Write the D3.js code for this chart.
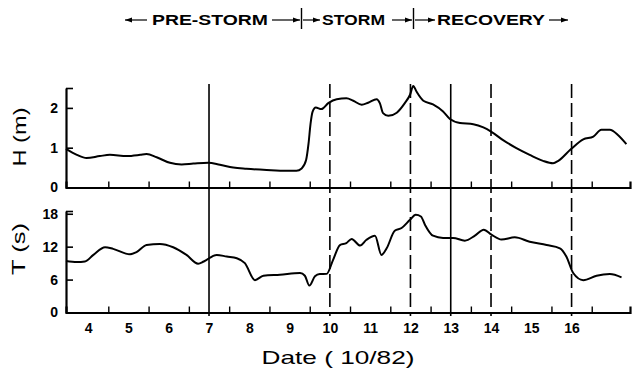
<!DOCTYPE html>
<html><head><meta charset="utf-8">
<script src="https://cdn.jsdelivr.net/npm/d3@7"></script>
<style>body{margin:0;background:#fff}svg{display:block}</style>
</head><body><svg id="c" width="632" height="369"></svg>
<script>
// ---- data ----
const hDays = [3.45,3.72,3.96,4.29,4.54,4.96,5.29,5.45,5.70,6.03,6.32,6.61,6.98,7.27,7.60,7.93,8.43,8.93,9.17,9.30,9.41,9.47,9.52,9.57,9.65,9.79,9.96,10.17,10.41,10.58,10.79,10.95,11.16,11.24,11.32,11.45,11.66,11.86,11.99,12.07,12.15,12.32,12.56,12.81,12.98,13.23,13.56,13.81,14.01,14.30,14.63,14.96,15.29,15.54,15.67,15.98,16.29,16.54,16.74,16.95,17.15,17.36];
const hVals = [0.97,0.82,0.74,0.79,0.82,0.79,0.82,0.84,0.76,0.62,0.58,0.60,0.62,0.57,0.50,0.47,0.44,0.42,0.42,0.48,0.69,1.10,1.60,1.90,2.01,1.97,2.12,2.22,2.24,2.18,2.08,2.13,2.22,2.12,1.87,1.80,1.88,2.12,2.33,2.55,2.41,2.18,2.09,1.91,1.72,1.62,1.59,1.51,1.40,1.19,0.99,0.82,0.67,0.61,0.67,0.96,1.21,1.28,1.45,1.45,1.32,1.09];
const tDays = [3.45,3.72,3.92,4.13,4.42,4.62,5.04,5.20,5.45,5.78,6.11,6.44,6.73,6.87,7.19,7.44,7.69,7.89,8.14,8.35,8.76,9.26,9.38,9.49,9.63,9.75,9.92,10.08,10.25,10.41,10.54,10.75,10.91,11.12,11.28,11.41,11.61,11.78,11.99,12.13,12.26,12.36,12.56,12.81,13.06,13.35,13.60,13.82,14.01,14.26,14.59,14.96,15.38,15.71,15.87,16.04,16.29,16.62,16.95,17.24];
const tVals = [9.4,9.2,9.3,10.5,11.9,11.6,10.6,11.0,12.3,12.5,11.9,10.5,8.9,9.3,10.5,10.2,9.9,9.0,5.9,6.7,6.9,7.2,6.7,4.9,6.6,7.0,7.04,9.6,12.3,12.65,13.4,12.2,13.25,14.0,10.5,11.7,14.9,15.4,16.9,17.8,17.5,16.0,14.0,13.6,13.6,13.1,14.0,15.1,14.2,13.3,13.7,12.9,12.3,11.7,10.2,7.2,5.9,6.7,7.0,6.4];
const dateLabels = [4,5,6,7,8,9,10,11,12,13,14,15,16];
const minorTicks = [4.5,5.5,6.5,7.5,8.5,9.5,10.5,11.5,12.5,13.5,14.5,15.5,16.5];
const hTicks = [0,1,2];
const tTicks = [0,6,12,18];
const markerDays = [7,10,12,13,14,16];
const markerDashed = [false,true,true,false,true,true];
const phases = ["PRE-STORM","STORM","RECOVERY"];

// ---- layout ----
const svg = d3.select("#c");
const font = "'Liberation Sans', Arial, sans-serif";
const x = d3.scaleLinear().domain([3.45,17.45]).range([66,630]);
const yH = d3.scaleLinear().domain([0,2.5]).range([187.5,88]);
const yT = d3.scaleLinear().domain([0,18.5]).range([312.5,211]);

// vertical event lines
markerDays.forEach((d,i)=>{
  svg.append("line").attr("x1",x(d)).attr("x2",x(d)).attr("y1",84).attr("y2",316)
    .attr("stroke","#000").attr("stroke-width",1.6)
    .attr("stroke-dasharray",markerDashed[i]?"14,5":null);
});

function panel(y, ticks, top){
  const gx = svg.append("g").attr("transform",`translate(0,${y(0)})`)
    .call(d3.axisBottom(x).tickValues(minorTicks).tickSizeInner(-6).tickSizeOuter(-6).tickFormat(""));
  gx.select(".domain").attr("stroke-width",2.2);
  gx.selectAll(".tick line").attr("stroke-width",1.4);
  const gy = svg.append("g").attr("transform",`translate(${x(3.45)},0)`)
    .call(d3.axisLeft(y).tickValues(ticks.concat([top])).tickSizeInner(-7).tickSizeOuter(0).tickPadding(8)
      .tickFormat(v=> v===top?"":v));
  gy.select(".domain").attr("stroke-width",2.2);
  gy.selectAll(".tick line").attr("stroke-width",1.6);
  gy.selectAll("text").attr("font-family",font).attr("font-size",14).attr("font-weight","bold").attr("fill","#000");
  return gx;
}
panel(yH,hTicks,2.5);
panel(yT,tTicks,18.5);

// date labels under lower axis
const gl = svg.append("g").attr("transform",`translate(0,${yT(0)})`)
  .call(d3.axisBottom(x).tickValues(dateLabels).tickSize(0).tickPadding(10.5).tickFormat(d=>d));
gl.select(".domain").remove();
gl.selectAll("text").attr("font-family",font).attr("font-size",14).attr("font-weight","bold").attr("fill","#000");

// curves
const lineH = d3.line().x((d,i)=>x(hDays[i])).y(d=>yH(d)).curve(d3.curveMonotoneX);
const lineT = d3.line().x((d,i)=>x(tDays[i])).y(d=>yT(d)).curve(d3.curveMonotoneX);
svg.append("path").attr("d",lineH(hVals)).attr("fill","none").attr("stroke","#000").attr("stroke-width",2);
svg.append("path").attr("d",lineT(tVals)).attr("fill","none").attr("stroke","#000").attr("stroke-width",2);

// axis titles
svg.append("text").attr("x",338).attr("y",364).attr("text-anchor","middle")
  .attr("font-family",font).attr("font-size",19).attr("textLength",153).attr("lengthAdjust","spacingAndGlyphs")
  .text("Date ( 10/82)");
svg.append("text").attr("transform","translate(26,137) rotate(-90)").attr("text-anchor","middle")
  .attr("font-family",font).attr("font-size",19).attr("textLength",59).attr("lengthAdjust","spacingAndGlyphs")
  .text("H (m)");
svg.append("text").attr("transform","translate(25,249) rotate(-90)").attr("text-anchor","middle")
  .attr("font-family",font).attr("font-size",19).attr("textLength",52).attr("lengthAdjust","spacingAndGlyphs")
  .text("T (s)");

// header
const hy = 20;
function arrow(x1,x2){
  svg.append("line").attr("x1",x1).attr("x2",x2).attr("y1",hy).attr("y2",hy).attr("stroke","#000").attr("stroke-width",1.2);
  const s = x2>x1?1:-1;
  svg.append("path").attr("d",`M${x2},${hy} L${x2-s*7},${hy-2.6} L${x2-s*7},${hy+2.6} Z`).attr("fill","#000");
}
arrow(147,125); arrow(272,300); arrow(303,320);
arrow(392,412); arrow(415,435); arrow(549,568);
[301.5,413.5].forEach(v=>svg.append("line").attr("x1",v).attr("x2",v).attr("y1",8).attr("y2",29).attr("stroke","#000").attr("stroke-width",1.4));
const phaseX = [[152,116],[322,63],[437,108]];
phases.forEach((p,i)=>{
  svg.append("text").attr("x",phaseX[i][0]).attr("y",25).attr("font-family",font).attr("font-size",14)
    .attr("font-weight","bold").attr("textLength",phaseX[i][1]).attr("lengthAdjust","spacingAndGlyphs").text(p);
});
</script></body></html>
